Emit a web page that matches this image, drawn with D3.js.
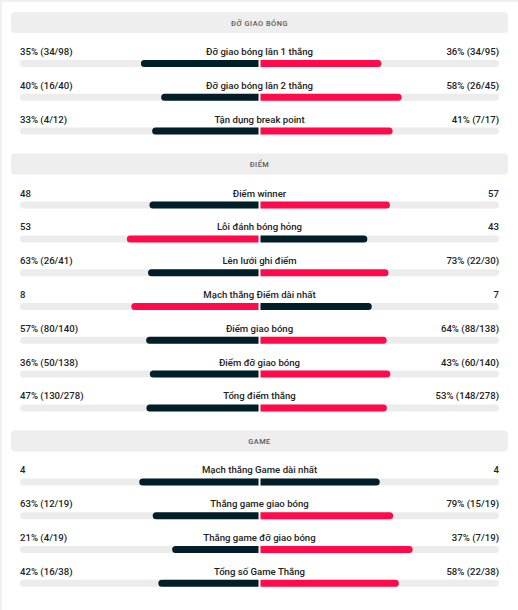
<!DOCTYPE html>
<html><head><meta charset="utf-8">
<script src="https://cdn.jsdelivr.net/npm/d3@7"></script>
<style>
html,body{margin:0;padding:0;background:#f0f0f0;}
svg{display:block;}
</style></head>
<body>
<script>
// ---- data ----
const sections = ["ĐỠ GIAO BÓNG", "ĐIỂM", "GAME"];
const statSection = [0,0,0, 1,1,1,1,1,1,1, 2,2,2,2];
const statLabels = [
  "Đỡ giao bóng lần 1 thắng", "Đỡ giao bóng lần 2 thắng", "Tận dụng break point",
  "Điểm winner", "Lỗi đánh bóng hỏng", "Lên lưới ghi điểm", "Mạch thắng Điểm dài nhất",
  "Điểm giao bóng", "Điểm đỡ giao bóng", "Tổng điểm thắng",
  "Mạch thắng Game dài nhất", "Thắng game giao bóng", "Thắng game đỡ giao bóng", "Tổng số Game Thắng"
];
const homeValues = [35, 40, 33, 48, 53, 63, 8, 57, 36, 47, 4, 63, 21, 42];
const awayValues = [36, 58, 41, 57, 43, 73, 7, 64, 43, 53, 4, 79, 37, 58];
const homeText = ["35% (34/98)", "40% (16/40)", "33% (4/12)", "48", "53", "63% (26/41)", "8",
  "57% (80/140)", "36% (50/138)", "47% (130/278)", "4", "63% (12/19)", "21% (4/19)", "42% (16/38)"];
const awayText = ["36% (34/95)", "58% (26/45)", "41% (7/17)", "57", "43", "73% (22/30)", "7",
  "64% (88/138)", "43% (60/140)", "53% (148/278)", "4", "79% (15/19)", "37% (7/19)", "58% (22/38)"];

// ---- layout ----
const W = 518, H = 610;
const DARK = "#021e29", RED = "#ff0a4b", TRACK = "#ececec", HEAD = "#eeeeee";
const trackL = 20, trackR = 499, center = (trackL + trackR) / 2, gap = 1;
const barH = 7;
const font = "Roboto, 'Noto Sans', sans-serif";

const svg = d3.select("body").append("svg").attr("width", W).attr("height", H);
svg.append("rect").attr("x", 2).attr("y", 2).attr("width", W).attr("height", H).attr("fill", "#fff");

const lenScale = d3.scaleLinear().domain([0, 1]).range([0, center - trackL - gap]);

// compute y layout
let y = 12;
const headerY = [];
const rowBarY = [];
let prevSec = -1;
statSection.forEach((s, i) => {
  if (s !== prevSec) {
    if (prevSec !== -1) y = rowBarY[i - 1] + 26;
    headerY[s] = y;
    y = y + 48;
    prevSec = s;
  } else {
    y = rowBarY[i - 1] + 33.8;
  }
  rowBarY[i] = y;
});

// headers
sections.forEach((name, s) => {
  const g = svg.append("g");
  g.append("rect").attr("x", 11).attr("y", headerY[s]).attr("width", 497).attr("height", 21)
    .attr("rx", 4).attr("fill", HEAD);
  g.append("text").attr("x", center).attr("y", headerY[s] + 13.8)
    .attr("text-anchor", "middle").attr("font-family", font).attr("font-size", 7.4)
    .attr("font-weight", 500).attr("letter-spacing", 0.5).attr("fill", "#5a5a5a").text(name);
});

function barPath(x0, x1, yy, h, roundLeft, roundRight) {
  const r = h / 2;
  const p = d3.path();
  if (roundLeft) { p.moveTo(x0 + r, yy); } else { p.moveTo(x0, yy); }
  if (roundRight) {
    p.lineTo(x1 - r, yy); p.arc(x1 - r, yy + r, r, -Math.PI / 2, Math.PI / 2);
  } else { p.lineTo(x1, yy); p.lineTo(x1, yy + h); }
  if (roundLeft) {
    p.lineTo(x0 + r, yy + h); p.arc(x0 + r, yy + r, r, Math.PI / 2, Math.PI * 1.5);
  } else { p.lineTo(x0, yy + h); }
  p.closePath();
  return p.toString();
}

const rows = svg.selectAll("g.row").data(statLabels).join("g").attr("class", "row");
rows.each(function (label, i) {
  const g = d3.select(this);
  const by = rowBarY[i];
  const a = homeValues[i], b = awayValues[i];
  const tot = a + b;
  const ty = by - 5;
  const common = t => t.attr("y", ty).attr("font-family", font).attr("font-size", 9.6)
    .attr("font-weight", 500).attr("fill", "#222");
  g.append("text").attr("x", trackL).call(common).text(homeText[i]);
  g.append("text").attr("x", trackR).attr("text-anchor", "end").call(common).text(awayText[i]);
  g.append("text").attr("x", center).attr("text-anchor", "middle").call(common).text(label);
  // tracks
  g.append("path").attr("d", barPath(trackL, center - gap, by, barH, true, false)).attr("fill", TRACK);
  g.append("path").attr("d", barPath(center + gap, trackR, by, barH, false, true)).attr("fill", TRACK);
  // bars
  const lc = a > b ? RED : DARK;
  const rc = b > a ? RED : DARK;
  const ll = lenScale(a / tot), rl = lenScale(b / tot);
  g.append("path").attr("d", barPath(center - gap - ll, center - gap, by, barH, true, false)).attr("fill", lc);
  g.append("path").attr("d", barPath(center + gap, center + gap + rl, by, barH, false, true)).attr("fill", rc);
});
</script>
</body></html>
